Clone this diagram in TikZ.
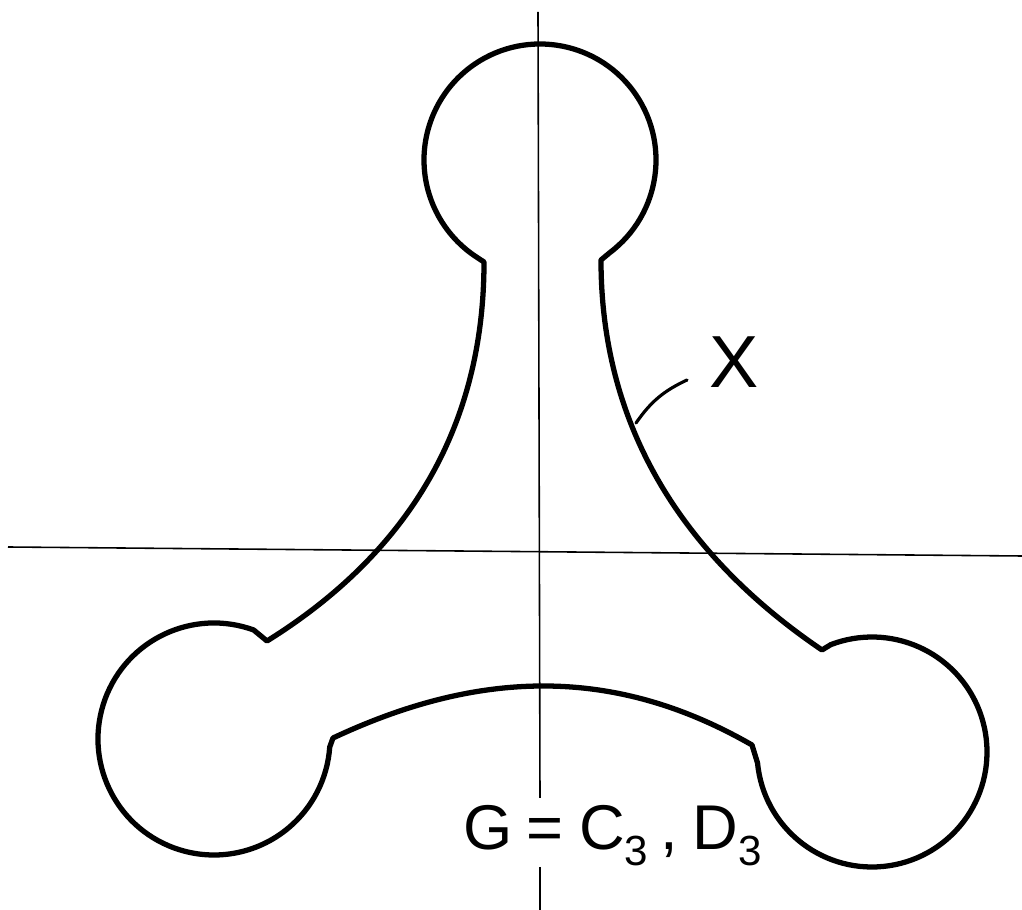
\documentclass[tikz,border=0pt]{standalone}
\usepackage{fontspec}
\setsansfont{Liberation Sans}
\usetikzlibrary{calc}
\newcommand{\lowsub}[1]{\raisebox{-9pt}{\fontsize{24}{24}\selectfont #1}}

\begin{document}
\begin{tikzpicture}[x=0.02cm,y=0.02cm,outline/.style={line width=3pt,line join=round,line cap=round},axis/.style={line width=0.9pt},lbl/.style={inner sep=0pt,font=\sffamily\fontsize{36}{36}\selectfont},ptr/.style={line width=1.8pt,line cap=round}]
\useasboundingbox (0,0) rectangle (1022,910);
\coordinate (topc) at (540,750);
\coordinate (leftc) at (214,171);
\coordinate (rightc) at (872,158);
% axes
\draw[axis] (538,898)--(540,112);
\draw[axis] (540,43)--(540,0);
\draw[axis] (8,363)--(1022,354);
% the space X
\draw[outline] ($(topc)+(-53:116)$) arc[start angle=-53,end angle=235,radius=116]
  -- (484,648) .. controls (484,468) and (394,348) .. (267,269)
  -- ($(leftc)+(70:116)$) arc[start angle=70,end angle=356,radius=116]
  -- (333,172) .. controls (478,240) and (613,245) .. (752,165)
  -- ($(rightc)+(185.5:115)$) arc[start angle=185.5,end angle=471,radius=115]
  -- (822,260) .. controls (698,344) and (601,468) .. (601,650)
  -- cycle;
\node[lbl,font=\sffamily\fontsize{42}{42}\selectfont] (xname) at (734,548) {X};
\coordinate (touch) at (636,487);
\coordinate (tip) at (687,530);
\draw[ptr] (touch) to[bend left=15] (tip);
\node[lbl,anchor=base west] (group) at (463,60) {G\hspace{0.22em}=\hspace{0.25em}C\lowsub{3}\hspace{0.2em},\hspace{0.22em}D\lowsub{3}};
\end{tikzpicture}
\end{document}
